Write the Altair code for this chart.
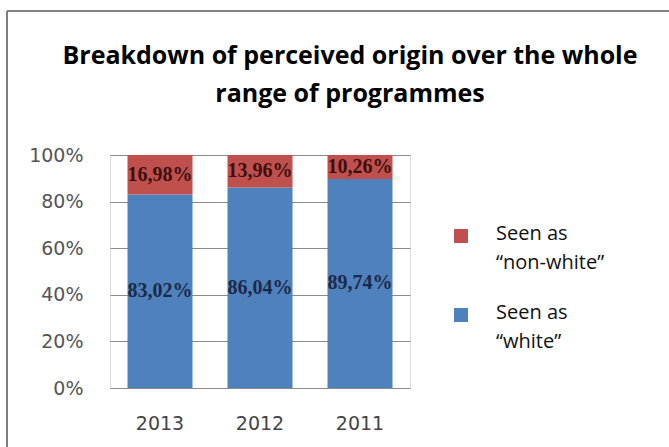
import altair as alt
import pandas as pd

years = ["2013", "2012", "2011"]
white = [83.02, 86.04, 89.74]
nonwhite = [16.98, 13.96, 10.26]
series = ["Seen as “white”", "Seen as “non-white”"]
colors = ["#4F81BD", "#C0504D"]
label_colors = ["#1b2a4a", "#3d0f0f"]
legend_order = ["Seen as “non-white”", "Seen as “white”"]

rows = []
for i, y in enumerate(years):
    rows.append({"year": y, "series": series[0], "value": white[i], "order": 0})
    rows.append({"year": y, "series": series[1], "value": nonwhite[i], "order": 1})
df = pd.DataFrame(rows)

leg = pd.DataFrame({"series": legend_order})

W, H = 300, 233

x_enc = alt.X("year:N", sort=years, title=None,
              scale=alt.Scale(paddingInner=0.35, paddingOuter=0.175),
              axis=alt.Axis(labelAngle=0, labelFont="DejaVu Sans", labelFontSize=19,
                            labelColor="#444444", labelPadding=26, ticks=False,
                            domain=False))

bars = alt.Chart(df).mark_bar().encode(
    x=x_enc,
    y=alt.Y("value:Q", stack="zero", title=None,
            scale=alt.Scale(domain=[0, 100]),
            axis=alt.Axis(values=[0, 20, 40, 60, 80, 100], labelExpr="datum.value + '%'",
                          labelFont="DejaVu Sans", labelFontSize=19, labelColor="#555555",
                          labelPadding=27, ticks=False, domain=False, grid=True,
                          gridColor="#8a8a8a", gridWidth=1)),
    color=alt.Color("series:N", scale=alt.Scale(domain=series, range=colors), legend=None),
    order=alt.Order("order:Q"),
)

texts = alt.Chart(df).transform_stack(
    stack="value", groupby=["year"], sort=[alt.SortField("order")], as_=["v0", "v1"]
).transform_calculate(
    mid="(datum.v0 + datum.v1) / 2",
    lab="replace(format(datum.value, '.2f'), '.', ',') + '%'",
).mark_text(font="Liberation Serif", fontWeight="bold", fontSize=20).encode(
    x=alt.X("year:N", sort=years),
    y=alt.Y("mid:Q"),
    text="lab:N",
    color=alt.condition("datum.order == 0", alt.value(label_colors[0]), alt.value(label_colors[1])),
)

leg_sq = alt.Chart(leg).mark_square(size=196, opacity=1).encode(
    x=alt.value(351),
    y=alt.Y("series:N", sort=legend_order,
            scale=alt.Scale(type="point", domain=legend_order, range=[81, 160], padding=0),
            axis=None),
    color=alt.Color("series:N", scale=alt.Scale(domain=series, range=colors), legend=None),
)

leg_tx = alt.Chart(leg).transform_calculate(
    lines="split(replace(datum.series, 'Seen as ', 'Seen as|'), '|')"
).mark_text(font="Open Sans", fontSize=20, align="left", baseline="middle",
            lineHeight=29, dy=-2, color="#111111").encode(
    x=alt.value(386),
    y=alt.Y("series:N", sort=legend_order,
            scale=alt.Scale(type="point", domain=legend_order, range=[81, 160], padding=0),
            axis=None),
    text="lines:N",
)

frame_top = alt.Chart(leg).mark_rule(color="#808080", strokeWidth=2).encode(
    x=alt.value(-103), x2=alt.value(559), y=alt.value(-144))
frame_left = alt.Chart(leg).mark_rule(color="#808080", strokeWidth=2).encode(
    x=alt.value(-103), y=alt.value(-144), y2=alt.value(292))

main = alt.layer(bars, texts)
legend_layer = alt.layer(leg_sq, leg_tx)

chart = alt.layer(main, legend_layer, frame_top, frame_left).resolve_scale(
    y="independent"
).properties(
    width=W, height=H,
    title=alt.Title(["Breakdown of perceived origin over the whole", "range of programmes"],
                    font="Open Sans", fontSize=25, fontWeight="bold", color="#000000",
                    anchor="middle", dx=90, lineHeight=38, offset=-97),
    autosize=alt.AutoSizeParams(type="none"),
    padding={"left": 110, "top": 155, "right": 259, "bottom": 59},
).configure_view(stroke=None).configure(background="white")

chart.save("out.html", embed_options={"renderer": "svg", "actions": False})
